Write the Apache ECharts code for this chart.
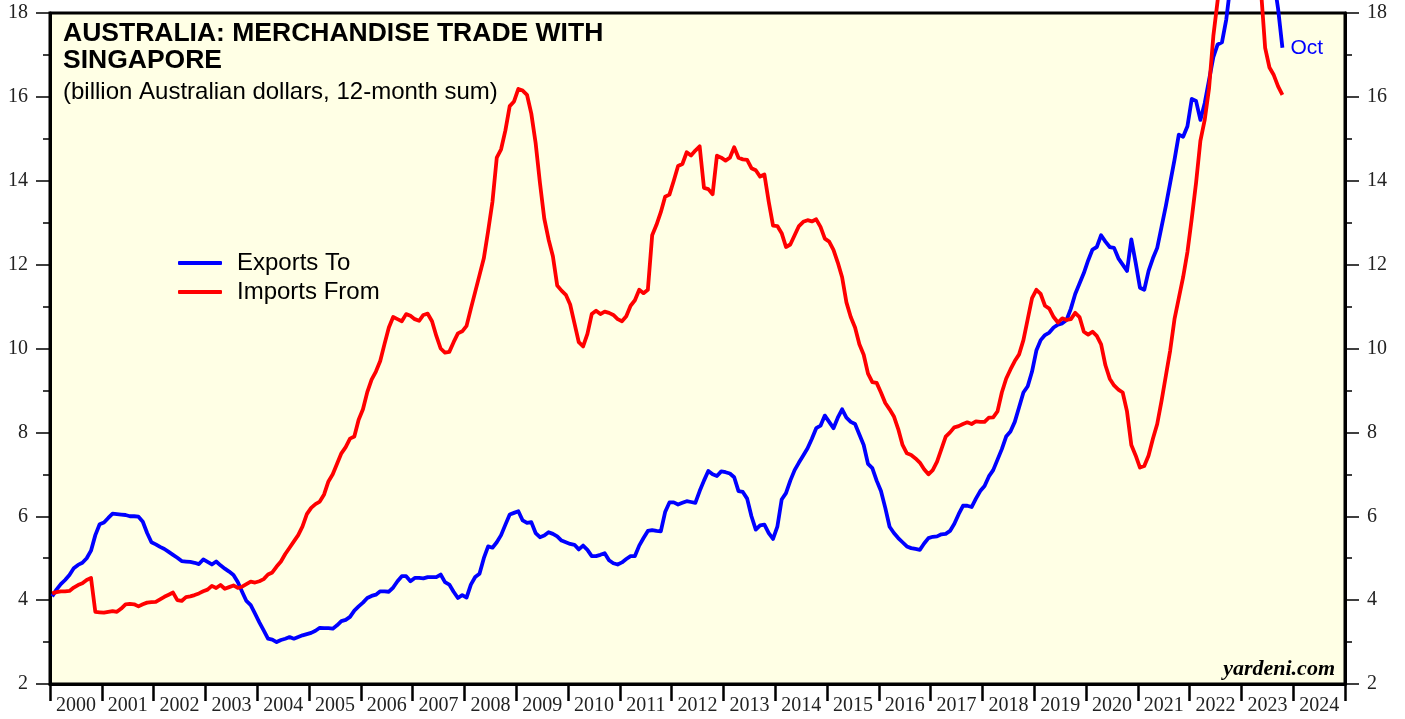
<!DOCTYPE html>
<html>
<head>
<meta charset="utf-8">
<title>Australia: Merchandise Trade with Singapore</title>
<script src="https://cdn.jsdelivr.net/npm/echarts@6/dist/echarts.min.js"></script>
<style>
  html, body { margin: 0; padding: 0; background: #fff; }
  #chart { width: 1405px; height: 719px; }
</style>
</head>
<body>
<div id="chart"></div>
<script>
// monthly, 12-month sum, billion A$, Jan 2000 .. Oct 2023
var startYear = 2000;
var exportsTo = [
  4.09, 4.25, 4.38, 4.48, 4.60, 4.76, 4.84, 4.89, 5.00, 5.18, 5.55, 5.81,   // 2000
  5.85, 5.96, 6.06, 6.05, 6.04, 6.03, 6.00, 6.00, 5.99, 5.87, 5.60, 5.38,   // 2001
  5.33, 5.27, 5.22, 5.15, 5.08, 5.01, 4.93, 4.92, 4.91, 4.89, 4.86, 4.97,   // 2002
  4.91, 4.85, 4.92, 4.83, 4.75, 4.68, 4.60, 4.43, 4.20, 3.98, 3.88, 3.68,   // 2003
  3.47, 3.28, 3.08, 3.06, 3.00, 3.05, 3.08, 3.12, 3.08, 3.12, 3.16, 3.19,   // 2004
  3.22, 3.27, 3.34, 3.33, 3.33, 3.32, 3.40, 3.50, 3.53, 3.60, 3.75, 3.85,   // 2005
  3.94, 4.05, 4.10, 4.13, 4.21, 4.21, 4.20, 4.30, 4.45, 4.57, 4.57, 4.45,   // 2006
  4.53, 4.53, 4.52, 4.55, 4.55, 4.55, 4.61, 4.43, 4.37, 4.20, 4.05, 4.12,   // 2007
  4.06, 4.37, 4.55, 4.63, 5.00, 5.28, 5.25, 5.38, 5.55, 5.80, 6.04, 6.08,   // 2008
  6.12, 5.90, 5.84, 5.86, 5.60, 5.50, 5.54, 5.62, 5.58, 5.52, 5.42, 5.38,   // 2009
  5.34, 5.32, 5.21, 5.30, 5.20, 5.05, 5.05, 5.08, 5.12, 4.95, 4.88, 4.85,   // 2010
  4.90, 4.98, 5.05, 5.05, 5.30, 5.48, 5.65, 5.67, 5.65, 5.64, 6.10, 6.33,   // 2011
  6.33, 6.28, 6.32, 6.36, 6.34, 6.32, 6.60, 6.85, 7.08, 7.00, 6.96, 7.07,   // 2012
  7.05, 7.02, 6.93, 6.60, 6.58, 6.42, 6.00, 5.68, 5.78, 5.80, 5.60, 5.46,   // 2013
  5.75, 6.40, 6.55, 6.85, 7.10, 7.28, 7.45, 7.62, 7.85, 8.10, 8.16, 8.40,   // 2014
  8.25, 8.10, 8.35, 8.55, 8.35, 8.25, 8.20, 7.95, 7.70, 7.25, 7.15, 6.85,   // 2015
  6.60, 6.20, 5.75, 5.60, 5.48, 5.38, 5.28, 5.24, 5.22, 5.20, 5.35, 5.48,   // 2016
  5.51, 5.52, 5.57, 5.58, 5.65, 5.82, 6.05, 6.25, 6.25, 6.22, 6.42, 6.60,   // 2017
  6.72, 6.95, 7.10, 7.35, 7.60, 7.90, 8.02, 8.25, 8.60, 8.95, 9.10, 9.45,   // 2018
  9.95, 10.20, 10.32, 10.38, 10.50, 10.57, 10.60, 10.68, 10.95, 11.30, 11.55, 11.80, // 2019
  12.10, 12.36, 12.42, 12.70, 12.55, 12.42, 12.40, 12.15, 12.00, 11.85, 12.60, 12.05, // 2020
  11.45, 11.40, 11.85, 12.15, 12.40, 12.90, 13.40, 13.95, 14.50, 15.10, 15.05, 15.30, // 2021
  15.95, 15.90, 15.45, 15.85, 16.40, 16.95, 17.25, 17.30, 17.85, 18.70, 19.40, 19.90, // 2022
  20.20, 20.40, 20.30, 20.10, 19.80, 19.50, 19.30, 18.80, 18.10, 17.17              // 2023
];
var importsFrom = [
  4.16, 4.19, 4.21, 4.21, 4.22, 4.30, 4.36, 4.40, 4.48, 4.53, 3.72, 3.71,   // 2000
  3.70, 3.72, 3.74, 3.72, 3.80, 3.90, 3.91, 3.90, 3.85, 3.90, 3.94, 3.95,   // 2001
  3.96, 4.02, 4.08, 4.13, 4.18, 4.00, 3.98, 4.07, 4.09, 4.12, 4.16, 4.21,   // 2002
  4.25, 4.34, 4.29, 4.36, 4.27, 4.31, 4.35, 4.29, 4.32, 4.38, 4.44, 4.42,   // 2003
  4.45, 4.50, 4.61, 4.66, 4.80, 4.92, 5.10, 5.25, 5.40, 5.55, 5.76, 6.05,   // 2004
  6.20, 6.29, 6.35, 6.52, 6.83, 7.00, 7.25, 7.50, 7.65, 7.85, 7.90, 8.30,   // 2005
  8.55, 8.96, 9.26, 9.45, 9.70, 10.11, 10.50, 10.75, 10.70, 10.65, 10.82, 10.78, // 2006
  10.70, 10.66, 10.80, 10.83, 10.65, 10.30, 10.00, 9.90, 9.92, 10.15, 10.36, 10.41, // 2007
  10.54, 10.95, 11.35, 11.75, 12.15, 12.80, 13.50, 14.55, 14.75, 15.20, 15.78, 15.89, // 2008
  16.19, 16.15, 16.05, 15.60, 14.90, 13.95, 13.10, 12.60, 12.20, 11.50, 11.38, 11.28, // 2009
  11.05, 10.60, 10.15, 10.05, 10.35, 10.82, 10.90, 10.82, 10.88, 10.85, 10.80, 10.70, // 2010
  10.65, 10.77, 11.02, 11.15, 11.40, 11.32, 11.40, 12.70, 12.95, 13.25, 13.62, 13.67, // 2011
  14.00, 14.35, 14.40, 14.68, 14.60, 14.72, 14.82, 13.83, 13.80, 13.68, 14.60, 14.55, // 2012
  14.48, 14.55, 14.80, 14.55, 14.51, 14.50, 14.30, 14.25, 14.10, 14.15, 13.50, 12.93, // 2013
  12.92, 12.75, 12.42, 12.48, 12.70, 12.92, 13.02, 13.06, 13.03, 13.08, 12.90, 12.62, // 2014
  12.55, 12.35, 12.05, 11.70, 11.10, 10.75, 10.50, 10.10, 9.85, 9.40, 9.20, 9.18,     // 2015
  8.95, 8.70, 8.55, 8.38, 8.08, 7.70, 7.50, 7.46, 7.38, 7.28, 7.12, 7.00,   // 2016
  7.10, 7.30, 7.60, 7.90, 8.00, 8.12, 8.15, 8.20, 8.24, 8.20, 8.26, 8.25,   // 2017
  8.25, 8.35, 8.36, 8.50, 8.95, 9.28, 9.50, 9.70, 9.86, 10.20, 10.70, 11.20, // 2018
  11.40, 11.30, 11.02, 10.95, 10.75, 10.62, 10.72, 10.68, 10.70, 10.85, 10.75, 10.40, // 2019
  10.33, 10.40, 10.30, 10.10, 9.60, 9.28, 9.12, 9.02, 8.95, 8.50, 7.70, 7.45,   // 2020
  7.16, 7.20, 7.45, 7.85, 8.20, 8.75, 9.35, 9.95, 10.70, 11.20, 11.70, 12.30,   // 2021
  13.10, 13.95, 14.95, 15.45, 16.20, 17.45, 18.30, 19.30, 20.10, 20.70, 21.10, 21.30, // 2022
  21.30, 21.20, 21.00, 20.20, 18.60, 17.17, 16.70, 16.52, 16.25, 16.05             // 2023
];
var seriesNames = ['Exports To', 'Imports From'];
var lastMonthLabel = 'Oct';
var yearMin = 2000, yearMax = 2025;
var valMin = 2, valMax = 18, valStep = 2;

// each month is plotted at mid-month
function toPoints(arr) {
  return arr.map(function (v, i) { return [startYear + (i + 0.5) / 12, v]; });
}

var chart = echarts.init(document.getElementById('chart'));

var serifLabel = { fontFamily: 'Liberation Serif', fontSize: 20, color: '#222' };

function yAxisCfg(pos) {
  return {
    type: 'value',
    position: pos,
    min: valMin, max: valMax, interval: valStep,
    axisLine: { show: true, lineStyle: { color: '#000', width: 3 } },
    axisTick: { show: true, length: 14, lineStyle: { color: '#000', width: 1.5 } },
    minorTick: { show: true, splitNumber: 2, length: 7, lineStyle: { color: '#000', width: 1.5 } },
    splitLine: { show: false },
    axisLabel: Object.assign({ margin: 22 }, serifLabel)
  };
}

chart.setOption({
  animation: false,
  backgroundColor: '#fff',
  title: {
    text: 'AUSTRALIA: MERCHANDISE TRADE WITH\nSINGAPORE',
    subtext: '(billion Australian dollars, 12-month sum)',
    left: 63, top: 20, itemGap: 6, padding: 0,
    textStyle: { fontFamily: 'Liberation Sans', fontWeight: 'bold', fontSize: 26.5, lineHeight: 27, color: '#000' },
    subtextStyle: { fontFamily: 'Liberation Sans', fontSize: 24, lineHeight: 24, color: '#000' }
  },
  legend: {
    orient: 'vertical',
    left: 178, top: 251, padding: 0,
    itemWidth: 44, itemHeight: 4, itemGap: 5,
    icon: 'roundRect',
    textStyle: { fontFamily: 'Liberation Sans', fontSize: 24, color: '#000', padding: [0, 0, 0, 10] },
    data: seriesNames
  },
  grid: {
    left: 50, right: 60, top: 13, bottom: 35,
    show: true, backgroundColor: '#ffffe5', borderColor: '#000', borderWidth: 3,
    containLabel: false, outerBoundsMode: 'none'
  },
  xAxis: {
    type: 'value',
    min: yearMin, max: yearMax, interval: 1,
    axisLine: { show: true, lineStyle: { color: '#000', width: 3 } },
    axisTick: { show: true, length: 17, lineStyle: { color: '#000', width: 2.5 } },
    splitLine: { show: false },
    axisLabel: Object.assign({
      margin: 12,
      padding: [0, 0, 0, 52],
      formatter: function (v) { return v < yearMax ? String(v) : ''; }
    }, serifLabel)
  },
  yAxis: [yAxisCfg('left'), yAxisCfg('right')],
  series: [
    {
      name: seriesNames[0], type: 'line', data: toPoints(exportsTo),
      showSymbol: false, clip: false,
      lineStyle: { color: '#0000ff', width: 3.8, join: 'round' },
      itemStyle: { color: '#0000ff' },
      endLabel: {
        show: true, formatter: lastMonthLabel, distance: 8,
        fontFamily: 'Liberation Sans', fontSize: 21, color: '#0000ff'
      }
    },
    {
      name: seriesNames[1], type: 'line', data: toPoints(importsFrom),
      showSymbol: false, clip: false,
      lineStyle: { color: '#ff0000', width: 3.8, join: 'round' },
      itemStyle: { color: '#ff0000' }
    }
  ],
  graphic: [{
    type: 'text',
    style: {
      text: 'yardeni.com', x: 1335, y: 669,
      textAlign: 'right', textVerticalAlign: 'middle',
      font: 'italic bold 22px "Liberation Serif"', fill: '#000'
    }
  }]
});
</script>
</body>
</html>
